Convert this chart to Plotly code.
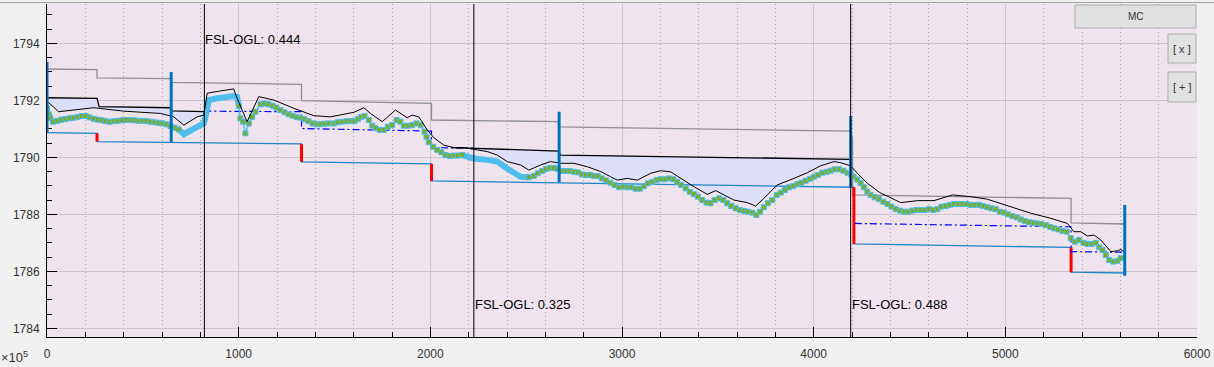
import numpy as np
import plotly.graph_objects as go

# ---------------- data ----------------
# grey upper step line
top_x = [0, 261, 261, 648, 648, 1328, 1328, 2006, 2006, 2669, 2669, 4193, 4203, 4203, 5343, 5343, 5623]
top_y = [1793.10, 1793.08, 1792.79, 1792.76, 1792.63, 1792.56, 1791.99, 1791.89, 1791.31,
         1791.25, 1791.07, 1790.92, 1790.67, 1788.68, 1788.56, 1787.70, 1787.66]

# blue invert line
inv_x = [0, 261, 261, 1328, 1328, 2006, 2006, 4210, 4210, 5343, 5343, 5623]
inv_y = [1790.87, 1790.84, 1790.55, 1790.47, 1789.84, 1789.77, 1789.17, 1788.95,
         1786.96, 1786.84, 1785.97, 1785.94]

# red drops
drop_x = [261, 1328, 2006, 4210, 5343]
drop_top = [1790.84, 1790.47, 1789.77, 1788.95, 1786.84]
drop_bot = [1790.55, 1789.84, 1789.17, 1786.96, 1785.97]

# blue manhole bars
mh_x = [0, 648, 2672, 4193, 5623]
mh_top = [1793.35, 1792.99, 1791.60, 1791.45, 1788.33]
mh_bot = [1790.86, 1790.51, 1789.12, 1788.95, 1785.84]

# black step FSL lines (two reaches)
fsl1_x = [0, 261, 272, 646, 652, 821]
fsl1_y = [1792.09, 1792.07, 1791.78, 1791.74, 1791.63, 1791.60]
fsl2_x = [2110, 2669, 2679, 4193]
fsl2_y = [1790.34, 1790.22, 1790.08, 1789.93]

# blue dash-dot design line
dd1_x = [821, 1328, 1328, 2006, 2006, 2227]
dd1_y = [1791.62, 1791.60, 1791.01, 1790.92, 1790.34, 1790.32]
dd2_x = [4215, 5343, 5343, 5623]
dd2_y = [1787.68, 1787.56, 1786.69, 1786.67]

# black wavy line
wav_x = [0, 61, 244, 400, 592, 661, 714, 783, 818, 836, 906, 974, 992, 1044, 1105, 1183, 1288,
         1392, 1479, 1601, 1653, 1688, 1749, 1818, 1879, 1905, 1940, 1984, 2018, 2070, 2123,
         2175, 2245, 2297, 2349, 2401, 2471, 2514, 2575, 2627, 2680, 2749, 2819, 2889, 2940,
         2975, 3028, 3080, 3150, 3201, 3254, 3306, 3375, 3445, 3489, 3532, 3584, 3654, 3697,
         3740, 3810, 3897, 3967, 4036, 4106, 4141, 4193, 4228, 4280, 4346, 4454, 4541, 4628,
         4724, 4819, 4906, 5028, 5132, 5237, 5324, 5358, 5393, 5428, 5463, 5498, 5533, 5550,
         5585, 5602, 5628]
wav_y = [1791.97, 1791.60, 1791.74, 1791.62, 1791.54, 1791.42, 1791.13, 1791.42, 1791.48,
         1792.25, 1792.33, 1792.40, 1792.07, 1791.25, 1792.13, 1792.01, 1791.72, 1791.46,
         1791.42, 1791.58, 1791.74, 1791.54, 1791.25, 1791.66, 1791.39, 1791.48, 1791.42,
         1790.96, 1790.69, 1790.43, 1790.34, 1790.34, 1790.26, 1790.20, 1790.08, 1789.85,
         1789.73, 1789.55, 1789.73, 1789.85, 1789.79, 1789.79, 1789.67, 1789.50, 1789.32,
         1789.20, 1789.26, 1789.20, 1789.44, 1789.53, 1789.49, 1789.26, 1788.97, 1788.70,
         1788.83, 1788.68, 1788.50, 1788.41, 1788.29, 1788.56, 1789.03, 1789.26, 1789.46,
         1789.70, 1789.85, 1789.81, 1789.70, 1789.44, 1789.09, 1788.76, 1788.41, 1788.48,
         1788.48, 1788.68, 1788.62, 1788.53, 1788.27, 1788.04, 1787.86, 1787.68, 1787.39,
         1787.39, 1787.24, 1787.27, 1787.10, 1786.84, 1786.69, 1786.72, 1786.77, 1786.65]

# green ground (OGL) points
ogl_x = [0, 9, 18, 32, 53, 74, 96, 119, 139, 160, 181, 202, 223, 244, 265, 286, 306, 327, 348,
         369, 392, 414, 435, 456, 477, 498, 519, 540, 561, 581, 602, 623, 644, 665, 686,
         714, 783, 818, 827, 844, 888, 940, 975, 992, 1001,
         1009, 1023, 1035, 1053, 1070, 1088, 1114, 1135, 1156, 1177, 1197, 1218, 1239, 1260,
         1281, 1302, 1322, 1343, 1364, 1385, 1406, 1427, 1448, 1469, 1496, 1517, 1540, 1563,
         1583, 1604, 1622, 1639, 1657, 1679, 1697, 1714, 1736, 1757, 1778, 1801, 1824, 1844,
         1862, 1883, 1905, 1928, 1949, 1970, 1980, 1992, 2015, 2036, 2057, 2079, 2102, 2123,
         2143, 2166,
         2227, 2297, 2349, 2401, 2471,
         2514, 2540, 2561, 2582, 2603, 2624, 2644, 2665, 2686, 2707, 2728, 2749, 2770, 2791,
         2811, 2832, 2853, 2874, 2895, 2916, 2940, 2961, 2984, 3007, 3028, 3048, 3071, 3093,
         3114, 3135, 3158, 3180, 3201, 3222, 3245, 3268, 3288, 3309, 3332, 3354, 3375, 3396,
         3419, 3441, 3462, 3483, 3506, 3529, 3549, 3570, 3593, 3615, 3636, 3657, 3680, 3701,
         3720, 3740, 3761, 3784, 3807, 3828, 3849, 3871, 3894, 3915, 3936, 3958, 3981, 4002,
         4022, 4045, 4068, 4088, 4109, 4132, 4155, 4176, 4193, 4208, 4228, 4245, 4262, 4280,
         4297, 4318, 4341, 4364, 4385, 4406, 4428, 4451, 4471, 4492, 4515, 4537, 4558, 4579,
         4602, 4625, 4646, 4666, 4689, 4711, 4732, 4753, 4776, 4798, 4819, 4840, 4863, 4885,
         4906, 4927, 4950, 4972, 4993, 5014, 5037, 5060, 5081, 5102, 5124, 5147, 5167, 5188,
         5211, 5233, 5254, 5275, 5298, 5320, 5341, 5362, 5385, 5408, 5428, 5449, 5472, 5490,
         5507, 5524, 5542, 5564, 5585, 5602]
ogl_y = [1791.70, 1791.51, 1791.37, 1791.25, 1791.28, 1791.32, 1791.34, 1791.37, 1791.39,
         1791.41, 1791.45, 1791.45, 1791.40, 1791.35, 1791.32, 1791.30, 1791.27, 1791.25,
         1791.27, 1791.28, 1791.30, 1791.31, 1791.31, 1791.30, 1791.28, 1791.28, 1791.27,
         1791.25, 1791.23, 1791.21, 1791.19, 1791.16, 1791.10, 1791.04, 1790.98,
         1790.81, 1791.07, 1791.19, 1791.42, 1792.01, 1792.07, 1792.13, 1792.15, 1792.12, 1791.80,
         1791.37, 1791.25, 1790.84, 1791.19, 1791.42, 1791.60, 1791.86, 1791.89, 1791.86,
         1791.81, 1791.74, 1791.66, 1791.58, 1791.51, 1791.46, 1791.41, 1791.39, 1791.34,
         1791.27, 1791.19, 1791.16, 1791.16, 1791.18, 1791.19, 1791.19, 1791.23, 1791.25,
         1791.27, 1791.27, 1791.27, 1791.34, 1791.41, 1791.45, 1791.31, 1791.11, 1791.02,
         1790.96, 1790.96, 1791.07, 1791.13, 1791.31, 1791.25, 1791.11, 1791.11, 1791.13,
         1791.19, 1791.13, 1790.90, 1790.72, 1790.53, 1790.37, 1790.26, 1790.18, 1790.08,
         1790.05, 1790.06, 1790.06, 1790.08,
         1789.96, 1789.91, 1789.85, 1789.61, 1789.32,
         1789.30, 1789.35, 1789.44, 1789.52, 1789.59, 1789.63, 1789.63, 1789.59, 1789.52,
         1789.52, 1789.52, 1789.49, 1789.47, 1789.40, 1789.38, 1789.38, 1789.35, 1789.34,
         1789.26, 1789.19, 1789.11, 1789.03, 1788.95, 1788.97, 1788.95, 1788.95, 1788.90,
         1788.90, 1788.99, 1789.09, 1789.14, 1789.20, 1789.23, 1789.23, 1789.26, 1789.23,
         1789.14, 1789.03, 1788.91, 1788.79, 1788.71, 1788.62, 1788.50, 1788.41, 1788.39,
         1788.50, 1788.56, 1788.50, 1788.39, 1788.29, 1788.21, 1788.15, 1788.12, 1788.09,
         1788.06, 1787.98, 1788.09, 1788.25, 1788.39, 1788.50, 1788.68, 1788.76, 1788.85,
         1788.95, 1788.99, 1789.06, 1789.11, 1789.18, 1789.25, 1789.32, 1789.38, 1789.46,
         1789.49, 1789.53, 1789.58, 1789.58, 1789.53, 1789.46, 1789.41, 1789.32, 1789.22,
         1789.10, 1788.95, 1788.80, 1788.68, 1788.60, 1788.53, 1788.44, 1788.36, 1788.27,
         1788.18, 1788.13, 1788.09, 1788.09, 1788.13, 1788.15, 1788.15, 1788.15, 1788.18,
         1788.15, 1788.18, 1788.27, 1788.29, 1788.33, 1788.36, 1788.36, 1788.36, 1788.36,
         1788.33, 1788.33, 1788.33, 1788.29, 1788.25, 1788.21, 1788.18, 1788.09, 1788.06,
         1788.00, 1787.94, 1787.89, 1787.82, 1787.76, 1787.72, 1787.70, 1787.68, 1787.66,
         1787.62, 1787.56, 1787.51, 1787.47, 1787.42, 1787.39, 1787.16, 1787.04, 1787.10,
         1787.00, 1786.96, 1786.96, 1787.00, 1786.84, 1786.75, 1786.57, 1786.40, 1786.34,
         1786.37, 1786.46]
# reaches drawn as a plain thick line (no markers)
thick_ranges = [(686, 1001), (2166, 2514)]

# FSL-OGL markers
mark_x = [821, 2227, 4193]
mark_val = [0.444, 0.325, 0.488]
mark_label_y = [1794.12, 1784.82, 1784.82]

# ---------------- styling ----------------
W, H = 1214, 367
ML, MR, MT, MB = 47, 17, 4, 30
PW, PH = W - ML - MR, H - MT - MB
FONT = "Liberation Sans, Arial, sans-serif"
C_CYAN = "#4DBEEE"
C_GREEN = "#77AC30"
C_BLUE = "#0072BD"


def px2paper(px, py):
    return (px - ML) / PW, (H - MB - py) / PH


def gaps(xs, y0s, y1s):
    gx, gy = [], []
    for x, a, b in zip(xs, y0s, y1s):
        gx += [x, x, None]
        gy += [a, b, None]
    return gx, gy


fig = go.Figure()

# shaded area between FSL and wavy line
for fx, fy in [(fsl1_x, fsl1_y), (fsl2_x, fsl2_y)]:
    x0, x1 = fx[0], fx[-1]
    wx = np.array(wav_x, float)
    wy = np.array(wav_y, float)
    inside = (wx > x0) & (wx < x1)
    bx = [x0] + list(wx[inside]) + [x1]
    by = [np.interp(x0, wx, wy)] + list(wy[inside]) + [np.interp(x1, wx, wy)]
    fig.add_trace(go.Scatter(x=list(fx) + bx[::-1], y=list(fy) + by[::-1], fill="toself",
                             fillcolor="rgb(221,222,247)", line=dict(width=0),
                             mode="lines", hoverinfo="skip"))

fig.add_trace(go.Scatter(x=top_x, y=top_y, mode="lines",
                         line=dict(color="#8E8E8E", width=1.3)))
fig.add_trace(go.Scatter(x=inv_x, y=inv_y, mode="lines",
                         line=dict(color="#1F86C8", width=1.3)))
dx, dy = gaps(drop_x, drop_top, drop_bot)
fig.add_trace(go.Scatter(x=dx, y=dy, mode="lines", line=dict(color="#FF0000", width=3)))

fig.add_trace(go.Scatter(x=dd1_x + [None] + dd2_x, y=dd1_y + [None] + dd2_y, mode="lines",
                         line=dict(color="#0000FF", width=1.2, dash="7px,3px,2px,3px")))

ox = np.array(ogl_x, float)
oy = np.array(ogl_y, float)
for a, b in thick_ranges:
    m = (ox >= a) & (ox <= b)
    fig.add_trace(go.Scatter(x=ox[m], y=oy[m], mode="lines",
                             line=dict(color=C_CYAN, width=6)))
fig.add_trace(go.Scatter(x=ox, y=oy, mode="lines", line=dict(color=C_CYAN, width=1.5)))
mk = np.ones(len(ox), bool)
for a, b in thick_ranges:
    mk &= ~((ox > a) & (ox < b))
fig.add_trace(go.Scatter(x=ox[mk], y=oy[mk], mode="markers",
                         marker=dict(symbol="square", size=5, color=C_GREEN,
                                     line=dict(color=C_CYAN, width=1))))

fig.add_trace(go.Scatter(x=wav_x, y=wav_y, mode="lines", line=dict(color="black", width=1)))
fig.add_trace(go.Scatter(x=fsl1_x + [None] + fsl2_x, y=fsl1_y + [None] + fsl2_y, mode="lines",
                         line=dict(color="black", width=1.3)))
bx_, by_ = gaps(mh_x, mh_top, mh_bot)
fig.add_trace(go.Scatter(x=bx_, y=by_, mode="lines", line=dict(color=C_BLUE, width=3)))

for x, v, ly in zip(mark_x, mark_val, mark_label_y):
    fig.add_shape(type="line", xref="x", yref="paper", x0=x, x1=x, y0=0, y1=1,
                  line=dict(color="black", width=1))
    fig.add_annotation(x=x, y=ly, xref="x", yref="y", text=f"FSL-OGL: {v:.3f}",
                       showarrow=False, xanchor="left", yanchor="middle", xshift=-1,
                       font=dict(family=FONT, size=13, color="black"))

# exponent label
ex, ey = px2paper(30, 357)
fig.add_annotation(x=ex, y=ey, xref="paper", yref="paper", text="×10<sup>5</sup>",
                   showarrow=False, xanchor="right", yanchor="middle",
                   font=dict(family=FONT, size=13, color="#333333"))

# window top border line
l0, t0 = px2paper(0, 2.5)
r0, _ = px2paper(W, 2.5)
fig.add_shape(type="line", xref="paper", yref="paper", x0=l0, x1=r0, y0=t0, y1=t0,
              line=dict(color="#A0A0A0", width=1))

# buttons
for (x0p, y0p, x1p, y1p, label, fs) in [(1075, 5, 1196, 28, "MC", 10),
                                         (1168, 34, 1196, 63, "[ x ]", 11),
                                         (1168, 72, 1196, 102, "[ + ]", 11)]:
    a0, b0 = px2paper(x0p, y1p)
    a1, b1 = px2paper(x1p, y0p)
    fig.add_shape(type="rect", xref="paper", yref="paper", x0=a0, x1=a1, y0=b0, y1=b1,
                  fillcolor="#E1E1E1", line=dict(color="#ADADAD", width=1), layer="above")
    fig.add_annotation(x=(a0 + a1) / 2, y=(b0 + b1) / 2, xref="paper", yref="paper",
                       text=label, showarrow=False, xanchor="center", yanchor="middle",
                       font=dict(family=FONT, size=fs, color="#333333"))

axis_common = dict(showline=True, linecolor="black", linewidth=1, ticks="inside",
                   tickcolor="black", ticklen=10, zeroline=False, layer="below traces",
                   tickfont=dict(family=FONT, size=12, color="#333333"),
                   gridcolor="#CDC4CD", gridwidth=1, showgrid=True)
fig.update_xaxes(range=[0, 6000], dtick=1000, tick0=0, ticklabelstandoff=6,
                 minor=dict(dtick=200, ticks="inside", ticklen=5, tickcolor="black",
                            showgrid=True, griddash="1px,3px", gridcolor="#A8A0A8",
                            gridwidth=1),
                 **axis_common)
fig.update_yaxes(range=[1783.695, 1795.38], dtick=2, tick0=0, ticklabelstandoff=4,
                 minor=dict(dtick=0.5, ticks="inside", ticklen=5, tickcolor="black",
                            showgrid=False),
                 **axis_common)
fig.update_layout(width=W, height=H, margin=dict(l=ML, r=MR, t=MT, b=MB),
                  paper_bgcolor="#F0F0F0", plot_bgcolor="#EFE4EE", showlegend=False,
                  font=dict(family=FONT))
fig.write_html("out.html")
